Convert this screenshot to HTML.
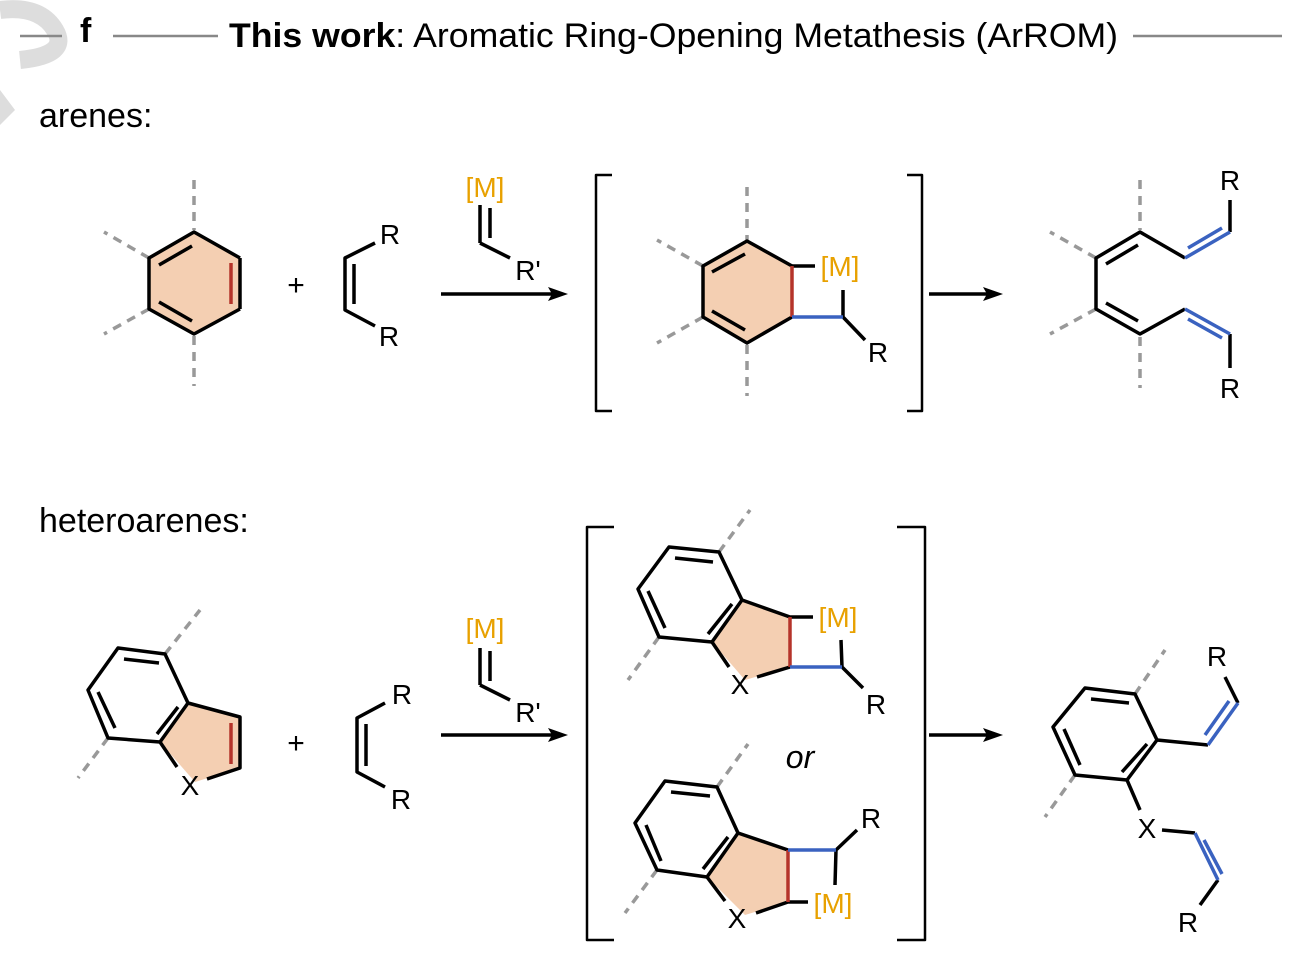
<!DOCTYPE html>
<html><head><meta charset="utf-8"><style>
html,body{margin:0;padding:0;background:#fff;}
svg{display:block;font-family:"Liberation Sans",Arial,sans-serif;}
</style></head><body>
<svg width="1296" height="972" viewBox="0 0 1296 972" xmlns="http://www.w3.org/2000/svg">
<path d="M0,10 Q40,5 55,30 Q70,55 20,60" fill="none" stroke="#ddd" stroke-width="18"/>
<path d="M0,90 L15,110 L0,125" fill="#ddd"/>
<g stroke="#888" stroke-width="2.5">
<line x1="20" y1="36" x2="62" y2="36"/><line x1="113" y1="36" x2="218" y2="36"/><line x1="1133" y1="36" x2="1282" y2="36"/>
</g>
<text x="80" y="42" font-size="34" font-weight="bold">f</text>
<text x="229" y="47" font-size="34" textLength="889" lengthAdjust="spacingAndGlyphs"><tspan font-weight="bold">This work</tspan>: Aromatic Ring-Opening Metathesis (ArROM)</text>
<text x="39" y="127" font-size="34">arenes:</text>
<text x="39" y="532" font-size="34">heteroarenes:</text>

<g stroke="#999" stroke-width="3.5" stroke-dasharray="9,7" fill="none">
<line x1="194" y1="180" x2="194" y2="230"/><line x1="194" y1="336" x2="194" y2="386"/>
<line x1="149" y1="258" x2="104" y2="232"/><line x1="149" y1="309" x2="104" y2="334"/>
<line x1="747" y1="187" x2="747" y2="240"/><line x1="747" y1="345" x2="747" y2="396"/>
<line x1="703" y1="266" x2="657" y2="240"/><line x1="703" y1="317" x2="657" y2="343"/>
<line x1="1140" y1="180" x2="1140" y2="230"/><line x1="1140" y1="337" x2="1140" y2="388"/>
<line x1="1096" y1="258" x2="1050" y2="232"/><line x1="1096" y1="309" x2="1050" y2="334"/>
<line x1="165" y1="654" x2="200" y2="610"/><line x1="108" y1="738" x2="78" y2="778"/>
<line x1="719" y1="552" x2="750" y2="510"/><line x1="659" y1="637" x2="628" y2="680"/>
<line x1="717" y1="787" x2="748" y2="744"/><line x1="657" y1="870" x2="625" y2="913"/>
<line x1="1135" y1="694" x2="1165" y2="650"/><line x1="1075" y1="775" x2="1045" y2="817"/>
</g>

<g fill="#f4cfb2" stroke="none">
<polygon points="194,232 240,258 240,309 194,334 149,309 149,258"/>
<polygon points="747,241 792,266 792,317 747,343 703,317 703,266"/>
<polygon points="188,703 240,717 240,768 195,782 160,742"/>
<polygon points="742,600 790,617 790,667 745,680 712,642"/>
<polygon points="738,833 788,850 788,902 745,915 707,877"/>
</g>

<g stroke="#000" stroke-width="3.5" fill="none" stroke-linecap="butt" stroke-linejoin="round">
<polyline points="240,309 194,334 149,309 149,258 194,232 240,258"/>
<line x1="240" y1="258" x2="240" y2="309"/>
<line x1="159" y1="265" x2="192" y2="246"/><line x1="159" y1="302" x2="192" y2="321"/>
<polyline points="375,243 345,258 345,310 375,326"/><line x1="354" y1="264" x2="354" y2="304"/>
<line x1="480" y1="205" x2="480" y2="243"/><line x1="490" y1="208" x2="490" y2="238"/><line x1="480" y1="243" x2="510" y2="258"/>
<line x1="441" y1="294" x2="555" y2="294"/><line x1="929" y1="294" x2="990" y2="294"/>
<line x1="441" y1="735" x2="555" y2="735"/><line x1="929" y1="735" x2="990" y2="735"/>
<polyline stroke-width="2.5" points="612,175 596,175 596,411 612,411"/>
<polyline stroke-width="2.5" points="907,175 922,175 922,411 907,411"/>
<polyline stroke-width="2.5" points="614,527 587,527 587,940 614,940"/>
<polyline stroke-width="2.5" points="897,527 925,527 925,940 897,940"/>
<polyline points="792,266 747,241 703,266 703,317 747,343 792,317"/>
<line x1="712" y1="272" x2="745" y2="254"/><line x1="712" y1="311" x2="745" y2="330"/>
<line x1="792" y1="266" x2="815" y2="266"/>
<polyline points="843,290 843,317 865,340"/>
<polyline points="1185,258 1140,232 1096,258 1096,309 1140,334 1185,309"/>
<line x1="1106" y1="264" x2="1138" y2="245"/><line x1="1106" y1="303" x2="1138" y2="321"/>
<line x1="1230" y1="232" x2="1230" y2="200"/><line x1="1230" y1="334" x2="1230" y2="368"/>
<polygon points="118,648 165,654 188,703 160,742 108,738 88,690"/>
<line x1="124" y1="659" x2="159" y2="663"/><line x1="98" y1="692" x2="115" y2="728"/><line x1="178" y1="707" x2="157" y2="734"/>
<polyline points="188,703 240,717 240,768 207,779"/><line x1="160" y1="742" x2="177" y2="767"/>
<polyline points="385,703 357,718 357,772 385,787"/><line x1="366" y1="724" x2="366" y2="766"/>
<line x1="480" y1="648" x2="480" y2="685"/><line x1="490" y1="651" x2="490" y2="681"/><line x1="480" y1="685" x2="510" y2="700"/>
<polygon points="669,547 719,552 742,600 712,642 659,637 638,589"/>
<line x1="675" y1="558" x2="713" y2="562"/><line x1="648" y1="591" x2="665" y2="628"/><line x1="732" y1="604" x2="708" y2="634"/>
<polyline points="742,600 790,617 813,617"/><polyline points="790,667 757,677"/><line x1="712" y1="642" x2="729" y2="667"/>
<polyline points="841,640 842,667 863,688"/>
<polygon points="665,781 717,787 738,833 707,877 657,870 635,823"/>
<line x1="671" y1="792" x2="710" y2="796"/><line x1="646" y1="825" x2="661" y2="861"/><line x1="728" y1="837" x2="703" y2="869"/>
<line x1="738" y1="833" x2="788" y2="850"/><polyline points="808,902 788,902 756,913"/><line x1="707" y1="877" x2="725" y2="901"/>
<polyline points="857,830 836,850 835,885"/>
<polygon points="1085,688 1135,694 1157,740 1127,780 1075,775 1053,727"/>
<line x1="1091" y1="699" x2="1129" y2="703"/><line x1="1064" y1="729" x2="1080" y2="765"/><line x1="1147" y1="744" x2="1122" y2="772"/>
<line x1="1157" y1="740" x2="1208" y2="745"/><line x1="1238" y1="703" x2="1225" y2="677"/>
<line x1="1127" y1="780" x2="1140" y2="810"/><line x1="1162" y1="830" x2="1195" y2="833"/><line x1="1218" y1="880" x2="1200" y2="905"/>
</g>
<g fill="#000">
<polygon points="568,294 548,287 552,294 548,301"/><polygon points="1003,294 983,287 987,294 983,301"/>
<polygon points="568,735 548,728 552,735 548,742"/><polygon points="1003,735 983,728 987,735 983,742"/>
</g>
<g stroke="#b5342a" stroke-width="3.5">
<line x1="231" y1="263" x2="231" y2="304"/><line x1="792" y1="266" x2="792" y2="317"/>
<line x1="231" y1="723" x2="231" y2="764"/><line x1="790" y1="617" x2="790" y2="667"/><line x1="788" y1="850" x2="788" y2="902"/>
</g>
<g stroke="#3a62c0" stroke-width="3.5" fill="none">
<line x1="792" y1="317" x2="843" y2="317"/><line x1="790" y1="667" x2="842" y2="667"/><line x1="788" y1="850" x2="836" y2="850"/>
<line x1="1185" y1="258" x2="1230" y2="232"/><line x1="1188" y1="248" x2="1222" y2="228"/>
<line x1="1185" y1="309" x2="1230" y2="334"/><line x1="1188" y1="319" x2="1222" y2="338"/>
<line x1="1208" y1="745" x2="1238" y2="703"/><line x1="1205" y1="735" x2="1229" y2="701"/>
<line x1="1195" y1="833" x2="1218" y2="880"/><line x1="1204" y1="840" x2="1222" y2="874"/>
</g>
<g font-size="28" text-anchor="middle">
<text x="485" y="197" fill="#e8a100">[M]</text><text x="528" y="280">R'</text>
<text x="840" y="276" fill="#e8a100">[M]</text><text x="878" y="362">R</text>
<text x="1230" y="190">R</text><text x="1230" y="398">R</text>
<text x="190" y="795">X</text>
<text x="390" y="244">R</text><text x="389" y="346">R</text>
<text x="402" y="704">R</text><text x="401" y="809">R</text>
<text x="485" y="638" fill="#e8a100">[M]</text><text x="528" y="722">R'</text>
<text x="838" y="627" fill="#e8a100">[M]</text><text x="740" y="694">X</text><text x="876" y="714">R</text>
<text x="800" y="768" font-style="italic" font-size="32">or</text>
<text x="871" y="828">R</text><text x="833" y="913" fill="#e8a100">[M]</text><text x="737" y="928">X</text>
<text x="1217" y="666">R</text><text x="1147" y="838">X</text><text x="1188" y="932">R</text>
<text x="296" y="295" font-size="30">+</text><text x="296" y="753" font-size="30">+</text>
</g>
</svg>
</body></html>
